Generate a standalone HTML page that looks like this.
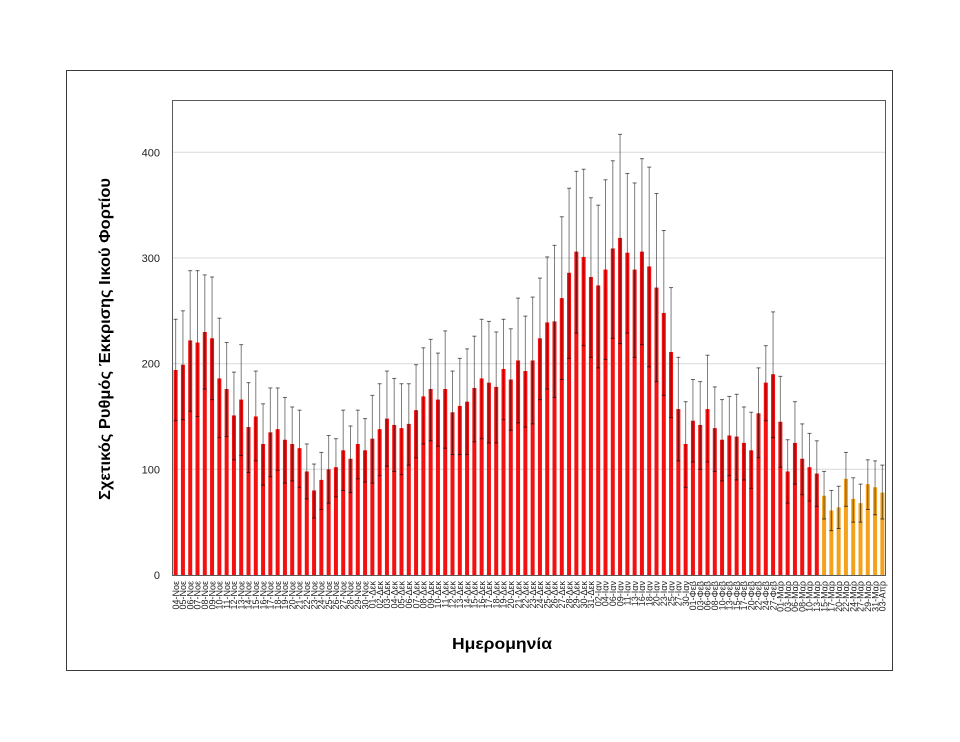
<!DOCTYPE html>
<html>
<head>
<meta charset="utf-8">
<style>
html,body{margin:0;padding:0;background:#fff}
svg{display:block}
</style>
</head>
<body>
<svg id="c" width="960" height="742" xmlns="http://www.w3.org/2000/svg" font-family="'Liberation Sans', sans-serif">
<rect x="0" y="0" width="960" height="742" fill="#fff"/>
<rect x="66.5" y="70.5" width="826" height="600" fill="none" stroke="#3a3a3a" stroke-width="1"/>
<g stroke="#d9d9d9" stroke-width="1">
<line x1="172" x2="886" y1="469.3" y2="469.3"/>
<line x1="172" x2="886" y1="363.7" y2="363.7"/>
<line x1="172" x2="886" y1="258" y2="258"/>
<line x1="172" x2="886" y1="152.3" y2="152.3"/>
</g>
<g id="bars"></g>
<rect x="172.5" y="100.5" width="713" height="475" fill="none" stroke="#5a5a5a" stroke-width="1"/>
<g font-size="11" fill="#222" text-anchor="end">
<text x="160" y="579">0</text>
<text x="160" y="473.3">100</text>
<text x="160" y="367.7">200</text>
<text x="160" y="262">300</text>
<text x="160" y="156.3">400</text>
</g>
<g id="xl" font-size="9" fill="#222" text-anchor="end">
<text>04-Νοε</text><text>05-Νοε</text><text>06-Νοε</text><text>07-Νοε</text><text>08-Νοε</text><text>09-Νοε</text><text>10-Νοε</text><text>11-Νοε</text><text>12-Νοε</text><text>13-Νοε</text><text>14-Νοε</text><text>15-Νοε</text><text>16-Νοε</text><text>17-Νοε</text><text>18-Νοε</text><text>19-Νοε</text><text>20-Νοε</text><text>21-Νοε</text><text>22-Νοε</text><text>23-Νοε</text><text>24-Νοε</text><text>25-Νοε</text><text>26-Νοε</text><text>27-Νοε</text><text>28-Νοε</text><text>29-Νοε</text><text>30-Νοε</text>
<text>01-Δεκ</text><text>02-Δεκ</text><text>03-Δεκ</text><text>04-Δεκ</text><text>05-Δεκ</text><text>06-Δεκ</text><text>07-Δεκ</text><text>08-Δεκ</text><text>09-Δεκ</text><text>10-Δεκ</text><text>11-Δεκ</text><text>12-Δεκ</text><text>13-Δεκ</text><text>14-Δεκ</text><text>15-Δεκ</text><text>16-Δεκ</text><text>17-Δεκ</text><text>18-Δεκ</text><text>19-Δεκ</text><text>20-Δεκ</text><text>21-Δεκ</text><text>22-Δεκ</text><text>23-Δεκ</text><text>24-Δεκ</text><text>25-Δεκ</text><text>26-Δεκ</text><text>27-Δεκ</text><text>28-Δεκ</text><text>29-Δεκ</text><text>30-Δεκ</text><text>31-Δεκ</text>
<text>02-Ιαν</text><text>04-Ιαν</text><text>06-Ιαν</text><text>09-Ιαν</text><text>11-Ιαν</text><text>13-Ιαν</text><text>16-Ιαν</text><text>18-Ιαν</text><text>20-Ιαν</text><text>23-Ιαν</text><text>25-Ιαν</text><text>27-Ιαν</text><text>30-Ιαν</text>
<text>01-Φεβ</text><text>03-Φεβ</text><text>06-Φεβ</text><text>08-Φεβ</text><text>10-Φεβ</text><text>13-Φεβ</text><text>15-Φεβ</text><text>17-Φεβ</text><text>20-Φεβ</text><text>22-Φεβ</text><text>24-Φεβ</text><text>27-Φεβ</text>
<text>01-Μαρ</text><text>03-Μαρ</text><text>06-Μαρ</text><text>08-Μαρ</text><text>10-Μαρ</text><text>13-Μαρ</text><text>15-Μαρ</text><text>17-Μαρ</text><text>20-Μαρ</text><text>22-Μαρ</text><text>24-Μαρ</text><text>27-Μαρ</text><text>29-Μαρ</text><text>31-Μαρ</text>
<text>03-Απρ</text>
</g>
<text x="502" y="649" font-size="16" font-weight="bold" fill="#000" text-anchor="middle" textLength="100" lengthAdjust="spacingAndGlyphs">Ημερομηνία</text>
<text transform="translate(110,339) rotate(-90)" font-size="16" font-weight="bold" fill="#000" text-anchor="middle" textLength="322" lengthAdjust="spacingAndGlyphs">Σχετικός Ρυθμός Έκκρισης Ιικού Φορτίου</text>
</svg>
<script>
(function(){
var vals=[194,199,222,220,230,224,186,176,151,166,140,150,124,135,138,128,124,120,98,80,90,100,102,118,110,
124,118,129,138,148,142,139,143,156,169,176,166,176,154,160,164,177,186,182,178,195,185,203,193,
203,224,239,240,262,286,306,301,282,274,289,309,319,305,289,306,292,272,248,211,157,124,146,142,157,
139,128,132,131,125,118,153,182,190,145,98,125,110,102,96,
75,61,64,91,72,68,86,83,78];
var up=[242,250,288,288,284,282,243,220,192,218,182,193,162,177,177,168,159,156,124,105,116,132,129,156,141,
156,148,170,181,193,186,181,181,199,215,223,210,231,193,205,214,226,242,240,230,242,233,262,245,
263,281,301,312,339,366,382,384,357,350,374,392,417,380,371,394,386,361,326,272,206,164,185,183,208,
178,166,169,171,159,154,196,217,249,188,128,164,143,134,127,
98,80,84,116,92,86,109,108,104];
var lo=[146,147,155,150,176,166,130,131,109,113,97,108,85,93,99,87,89,83,72,54,62,68,74,80,78,
91,88,87,94,103,98,95,104,111,124,127,122,120,114,114,114,126,129,125,125,147,137,144,140,
143,166,176,168,185,205,229,217,206,196,204,224,219,229,206,218,197,183,170,149,108,83,107,100,107,
98,89,94,90,90,82,111,146,130,102,68,86,76,70,65,
53,42,44,65,50,50,62,57,53];
var NS="http://www.w3.org/2000/svg";
var g=document.getElementById('bars');
var n=vals.length, W=714/n, base=575;
function Y(v){return base-v*1.0567;}
function el(t,a){var e=document.createElementNS(NS,t);for(var k in a)e.setAttribute(k,a[k]);g.appendChild(e);return e;}
for(var i=0;i<n;i++){
  var cx=172+W*(i+0.5);
  var col=i>=89?'#f4a21c':'#f21010';
  var yt=Y(vals[i]);
  el('rect',{x:(cx-2).toFixed(2),y:yt.toFixed(2),width:4,height:(base-yt).toFixed(2),fill:col});
}
for(var i=0;i<n;i++){
  var cx=172+W*(i+0.5);
  var yu=Y(up[i]), yl=Y(lo[i]);
  el('line',{x1:cx.toFixed(2),x2:cx.toFixed(2),y1:yu.toFixed(2),y2:yl.toFixed(2),stroke:'#000','stroke-opacity':0.5,'stroke-width':1});
  el('line',{x1:(cx-2).toFixed(2),x2:(cx+2).toFixed(2),y1:yu.toFixed(2),y2:yu.toFixed(2),stroke:'#000','stroke-opacity':0.6,'stroke-width':1});
  el('line',{x1:(cx-2).toFixed(2),x2:(cx+2).toFixed(2),y1:yl.toFixed(2),y2:yl.toFixed(2),stroke:'#000','stroke-opacity':0.6,'stroke-width':1});
}
var ts=document.getElementById('xl').getElementsByTagName('text');
for(var j=0;j<ts.length;j++){
  var x=172+W*(j+0.5)+3.2;
  ts[j].setAttribute('transform','translate('+x.toFixed(2)+',581) rotate(-90)');
}
})();
</script>
</body>
</html>
